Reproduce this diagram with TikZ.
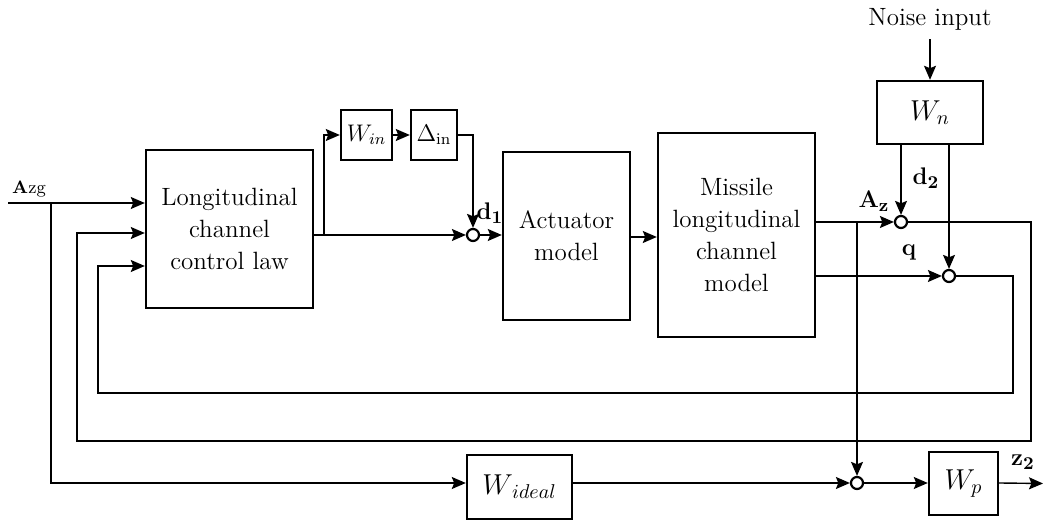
\documentclass[tikz,border=0pt]{standalone}
\usepackage{amsmath}
\usetikzlibrary{arrows.meta}
\usetikzlibrary{positioning}

\tikzset{
  blk/.style={draw,line width=1.2pt,inner sep=0pt,align=center,font=\fontsize{12.5}{16}\selectfont},
  sumpt/.style={draw,circle,line width=1.1pt,inner sep=0pt,minimum size=6pt},
  sig/.style={line width=0.7pt,-{Stealth[length=7pt,width=6pt,inset=1.2pt]}},
  lbl/.style={inner sep=0pt,font=\fontsize{12.5}{14}\selectfont}
}

\begin{document}
\begin{tikzpicture}[x=0.5pt,y=-0.5pt]
  \useasboundingbox (0,0) rectangle (1043,522);

  % blocks
  \node[blk,minimum width=83.5pt,minimum height=79pt] (ctrl) at (229.5,229) {Longitudinal\\channel\\control law};
  \node[blk,minimum width=25.5pt,minimum height=25pt,font=\large] (win) at (366.5,135) {$W_{in}$};
  \node[blk,minimum width=23pt,minimum height=25pt,font=\large] (delta) at (434,135) {$\Delta_{\rm in}$};
  \node[blk,minimum width=63.5pt,minimum height=84pt] (act) at (566.5,236) {Actuator\\model};
  \node[blk,minimum width=78.5pt,minimum height=102pt] (mis) at (736.5,235) {Missile\\longitudinal\\channel\\model};
  \node[blk,minimum width=53pt,minimum height=31.5pt,font=\Large] (wn) at (930,112.5) {$W_n$};
  \node[blk,minimum width=52.5pt,minimum height=32pt,font=\Large] (wid) at (519.5,487) {$W_{\,ideal}$};
  \node[blk,minimum width=34.5pt,minimum height=31.5pt,font=\Large] (wp) at (963.5,483.5) {$W_p$};

  % summing junctions
  \node[sumpt] (sum1) at (473,235) {};
  \node[sumpt] (sumA) at (901,222) {};
  \node[sumpt] (sumQ) at (949,276) {};
  \node[sumpt] (sum3) at (857,483) {};

  % texts
  \node[lbl] (noise) at (930,19) {Noise input};
  \node[inner sep=0pt,font=\small] (azg) at (29,189) {\textbf{A}zg};
  \node[lbl] (d1) at (490,213) {$\mathbf{d_1}$};
  \node[lbl] (d2) at (926,178) {$\mathbf{d_2}$};
  \node[lbl] (az) at (874,201) {$\mathbf{A_z}$};
  \node[lbl] (q) at (909,253) {$\mathbf{q}$};
  \node[lbl] (z2) at (1023,462) {$\mathbf{z_2}$};

  \coordinate (in) at (8,203);
  \coordinate (b0) at (51,203);
  \coordinate (b1) at (324,235);
  \coordinate (b2) at (sum3 |- sumA);
  \coordinate (out) at (1043,483.5);

  % forward path
  \draw[sig] (in) -- (ctrl.west |- in);
  \draw[sig] (ctrl.east |- sum1) -- (sum1.west);
  \draw[sig] (b1) |- (win.west);
  \draw[sig] (win) -- (delta);
  \draw[sig] (delta.east) -| (sum1.north);
  \draw[sig] (sum1.east) -- (act.west |- sum1);
  \draw[sig] (act.east |- 0,237) -- (mis.west |- 0,237);
  \draw[sig] (mis.east |- sumA) -- (sumA.west);
  \draw[sig] (mis.east |- sumQ) -- (sumQ.west);

  % noise
  \draw[sig] (noise.south) ++(0,9) -- (wn.north);
  \draw[sig] (wn.south -| sumA) -- (sumA.north);
  \draw[sig] (wn.south -| sumQ) -- (sumQ.north);

  % feedback loops
  \draw[sig] (sumA.east) -| (1031,441) -| (77,233) -- (ctrl.west |- 77,233);
  \draw[sig] (sumQ.east) -| (1013,393) -| (98,266) -- (ctrl.west |- 98,266);

  % performance channel
  \draw[sig] (b0) |- (wid.west |- sum3);
  \draw[sig] (wid.east |- sum3) -- (sum3.west);
  \draw[sig] (b2) -- (sum3.north);
  \draw[sig] (sum3.east) -- (wp.west |- sum3);
  \draw[sig] (wp.east |- sum3) -- (out);
\end{tikzpicture}
\end{document}
